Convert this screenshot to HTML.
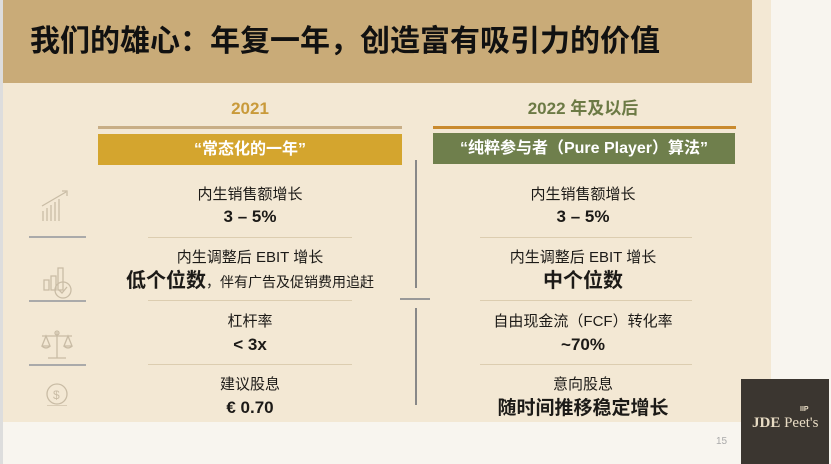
<!DOCTYPE html>
<html><head><meta charset="utf-8"><style>
*{margin:0;padding:0;box-sizing:border-box}
body{width:831px;height:464px;overflow:hidden;background:#f8f5ef;font-family:"Liberation Sans","Noto Sans CJK SC",sans-serif;position:relative}
.a{position:absolute}
.c{position:absolute;text-align:center;white-space:nowrap;color:#1c1a17;line-height:22px}
.t{font-size:15px}
.b{font-size:17px;font-weight:bold}
</style></head><body>
<div class="a" style="left:0;top:0;width:771px;height:422px;background:#f3e8d4"></div>
<div class="a" style="left:0;top:0;width:752px;height:83px;background:#c9ab78"></div>
<div class="a" style="left:0;top:0;width:3px;height:464px;background:#ddd"></div>
<div class="a" style="left:30px;top:22px;font-size:30px;line-height:40px;font-weight:bold;color:#111;white-space:nowrap">我们的雄心：年复一年，创造富有吸引力的价值</div>

<div class="c" style="left:98px;width:304px;top:98px;font-size:17px;font-weight:bold;color:#c99a3a">2021</div>
<div class="c" style="left:433px;width:300px;top:98px;font-size:17px;font-weight:bold;color:#6c7a45">2022 年及以后</div>
<div class="a" style="left:98px;top:126px;width:304px;height:3px;background:#c8ae86"></div>
<div class="a" style="left:433px;top:126px;width:303px;height:3px;background:#c98a2e"></div>
<div class="c" style="left:98px;width:304px;top:134px;height:31px;line-height:31px;background:#d4a52e;color:#fff;font-size:16px;font-weight:bold">“常态化的一年”</div>
<div class="c" style="left:433px;width:302px;top:133px;height:31px;line-height:31px;background:#6f7f4c;color:#fff;font-size:16px;font-weight:bold">“纯粹参与者（Pure Player）算法”</div>

<div class="a" style="left:415px;top:160px;width:2px;height:128px;background:#888"></div>
<div class="a" style="left:400px;top:298px;width:30px;height:2px;background:#999"></div>
<div class="a" style="left:415px;top:308px;width:2px;height:97px;background:#888"></div>

<div class="a" style="left:29px;top:236px;width:57px;height:2px;background:#aaa"></div>
<div class="a" style="left:29px;top:300px;width:57px;height:2px;background:#aaa"></div>
<div class="a" style="left:29px;top:364px;width:57px;height:2px;background:#aaa"></div>
<div class="a" style="left:148px;top:237px;width:204px;height:1px;background:#dccdb0"></div>
<div class="a" style="left:148px;top:300px;width:204px;height:1px;background:#dccdb0"></div>
<div class="a" style="left:148px;top:364px;width:204px;height:1px;background:#dccdb0"></div>
<div class="a" style="left:480px;top:237px;width:212px;height:1px;background:#dccdb0"></div>
<div class="a" style="left:480px;top:300px;width:212px;height:1px;background:#dccdb0"></div>
<div class="a" style="left:480px;top:364px;width:212px;height:1px;background:#dccdb0"></div>

<svg class="a" style="left:38px;top:186px" width="40" height="220" fill="none" stroke="#c9bca5" stroke-width="1.3">
<path d="M5 35v-10M9 35v-13M13 35v-16M17 35v-19M21 35v-22M4 20L28 6M24 5h5v5"/>
<path d="M6 104v-10h5v10zM13 104v-14h5v14zM20 104v-22h5v22z"/><circle cx="25" cy="104" r="8"/><path d="M21 104l3 3 5-6"/>
<path d="M19 146v26M10 172h18M4 150h30M8 150l-4 10h8zM30 150l-4 10h8zM4 160q4 4 8 0M26 160q4 4 8 0"/><circle cx="19" cy="147" r="2"/>
<circle cx="19" cy="208" r="10"/><text x="15" y="213" font-size="12" fill="#c9bca5" stroke="none">$</text><path d="M9 220h20M9 224h20M9 228h20"/>
</svg>

<div class="c t" style="left:100px;width:300px;top:184px">内生销售额增长</div>
<div class="c b" style="left:100px;width:300px;top:206px">3 – 5%</div>
<div class="c t" style="left:100px;width:300px;top:247px">内生调整后 EBIT 增长</div>
<div class="c" style="left:100px;width:300px;top:270px"><b style="font-size:20px">低个位数</b><span style="font-size:14px">，伴有广告及促销费用追赶</span></div>
<div class="c t" style="left:100px;width:300px;top:311px">杠杆率</div>
<div class="c b" style="left:100px;width:300px;top:334px">&lt; 3x</div>
<div class="c t" style="left:100px;width:300px;top:374px">建议股息</div>
<div class="c b" style="left:100px;width:300px;top:397px">€ 0.70</div>

<div class="c t" style="left:433px;width:300px;top:184px">内生销售额增长</div>
<div class="c b" style="left:433px;width:300px;top:206px">3 – 5%</div>
<div class="c t" style="left:433px;width:300px;top:247px">内生调整后 EBIT 增长</div>
<div class="c" style="left:433px;width:300px;top:270px;font-size:20px;font-weight:bold">中个位数</div>
<div class="c t" style="left:433px;width:300px;top:311px">自由现金流（FCF）转化率</div>
<div class="c b" style="left:433px;width:300px;top:334px">~70%</div>
<div class="c t" style="left:433px;width:300px;top:374px">意向股息</div>
<div class="c" style="left:433px;width:300px;top:398px;font-size:19px;font-weight:bold">随时间推移稳定增长</div>

<div class="a" style="left:716px;top:436px;font-size:10px;color:#aaa">15</div>
<div class="a" style="left:741px;top:379px;width:88px;height:85px;background:#3b3630"></div>
<div class="a" style="left:752px;top:415px;color:#e8dcc4;font-family:'Liberation Serif',serif;font-size:15px;white-space:nowrap"><b>JDE</b> Peet's</div>
<div class="a" style="left:800px;top:406px;color:#e8dcc4;font-size:7px;font-weight:bold">IIP</div>
</body></html>
